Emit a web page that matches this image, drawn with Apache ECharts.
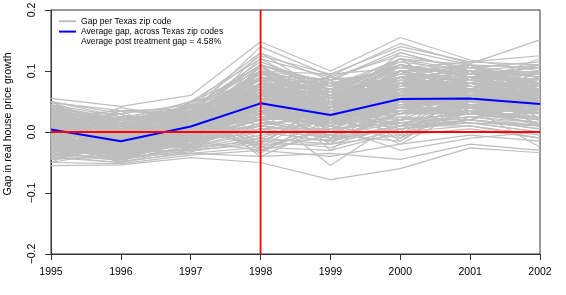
<!DOCTYPE html>
<html>
<head>
<meta charset="utf-8">
<script src="https://cdn.jsdelivr.net/npm/echarts@6/dist/echarts.min.js"></script>
<style>html,body{margin:0;padding:0;background:#fff}#c{width:566px;height:295px}</style>
</head>
<body>
<div id="c"></div>
<script>
const years = [1995, 1996, 1997, 1998, 1999, 2000, 2001, 2002];
const avgGap = [0.004, -0.015, 0.009, 0.047, 0.028, 0.054, 0.055, 0.046];
const treatmentYear = 1998;
const zipLabel = 'Gap per Texas zip code';
const avgLabel = 'Average gap, across Texas zip codes';
const noteLabel = 'Average post treatment gap = 4.58%';
const yTicks = [-0.2, -0.1, 0.0, 0.1, 0.2];
const zipGaps = [
[.030,.010,.035,.110,.070,.120,.100,.090],
[-.020,-.040,-.010,.020,.000,.030,.040,.020],
[.005,-.015,.010,.060,.040,.070,.065,.055],
[.040,.020,.030,.080,.050,.090,.095,.085],
[-.035,-.045,-.030,-.010,-.020,.010,.020,.005],
[.015,-.005,.025,.090,.060,.100,.080,.070],
[-.005,-.025,.000,.030,.010,.040,.050,.035],
[.050,.030,.045,.130,.085,.135,.110,.105],
[.000,-.020,.005,.045,.035,.055,.060,.050],
[-.015,-.030,-.005,.010,-.005,.020,.030,.015],
[.025,.000,.015,.070,.020,.080,.075,.060],
[-.040,-.050,-.025,.005,.015,.025,.015,.010],
[.010,-.010,.020,.100,.075,.110,.090,.095],
[.020,.005,.040,.055,.045,.060,.070,.065],
[-.025,-.035,-.015,.040,.025,.045,.055,.040],
[.035,.015,.050,.120,.090,.125,.105,.115],
[-.010,-.020,.010,.035,.005,.050,.045,.030],
[.008,-.012,-.005,.065,.055,.085,.080,.075],
[-.030,-.048,-.035,-.025,-.030,.000,.010,-.010],
[.045,.025,.020,.095,.065,.115,.100,.080],
[-.002,-.018,.015,.050,.030,.035,.040,.045],
[.012,-.008,.005,.075,.045,.075,.085,.070],
[-.045,-.040,-.020,.015,.020,.015,.025,.025],
[.028,.008,.030,.085,.080,.105,.095,.100],
[-.018,-.028,.000,.025,.040,.065,.050,.035],
[.003,-.022,-.010,.020,-.010,.030,.035,.020],
[.018,-.002,.035,.105,.055,.095,.085,.088],
[-.008,-.032,-.015,.000,-.015,.010,.025,.010],
[.038,.012,.025,.060,.035,.070,.075,.060],
[-.028,-.042,-.005,.045,.010,.055,.045,.050],
[.006,-.006,.018,.080,.070,.090,.075,.065],
[-.012,-.024,-.025,-.015,-.025,.005,.015,.000],
[.022,.002,.008,.040,.015,.050,.060,.055],
[-.050,-.052,-.038,-.030,-.040,-.020,-.005,-.015],
[.014,-.016,.022,.090,.050,.120,.110,.090],
[-.022,-.038,.002,.030,.020,.040,.035,.025],
[.032,.018,.042,.125,.095,.140,.115,.110],
[-.004,-.014,-.008,.055,.025,.060,.055,.045],
[.042,.022,.012,.050,.030,.065,.070,.050],
[-.038,-.046,-.022,.010,-.005,.020,.030,.015],
[.002,-.026,.012,.070,.060,.080,.065,.060],
[.026,.006,.028,.100,.060,.095,.090,.085],
[-.014,-.022,-.018,.015,.000,.025,.020,.005],
[.016,.004,.048,.085,.040,.100,.100,.080],
[-.032,-.036,-.028,-.005,.005,.015,.035,.020],
[.009,-.004,.014,.040,.050,.070,.060,.070],
[-.007,-.030,-.002,.035,.015,.045,.050,.040],
[.048,.035,.038,.115,.075,.110,.095,.095],
[-.024,-.044,-.012,.005,-.010,.010,.010,-.005],
[.020,-.008,.005,.060,.045,.085,.070,.065],
[-.001,-.012,.024,.075,.035,.055,.065,.060],
[.036,.014,.032,.095,.085,.130,.100,.098],
[-.016,-.034,-.030,-.020,-.020,-.005,.005,-.010],
[.011,-.014,.003,.055,.030,.065,.075,.055],
[-.042,-.050,-.032,-.015,-.012,.005,.020,.010],
[.024,.010,.018,.065,.065,.090,.085,.075],
[-.010,-.016,.006,.045,.020,.040,.040,.030],
[.004,-.024,-.006,.025,.010,.050,.055,.045],
[.030,.016,.040,.110,.080,.100,.105,.090],
[-.026,-.038,-.008,.020,.025,.035,.030,.030],
[.007,-.002,.016,.050,.040,.075,.080,.070],
[-.006,-.028,-.012,.010,-.005,.015,.025,.015],
[.018,-.006,.026,.070,.055,.080,.090,.080],
[-.034,-.044,-.026,.000,-.015,.010,.015,.000],
[.013,-.010,.008,.080,.045,.095,.085,.078],
[-.020,-.030,-.016,.005,.005,.020,.030,.020],
[.000,-.004,.020,.060,.050,.060,.060,.065],
[.034,.020,.028,.090,.070,.110,.095,.105],
[-.012,-.036,-.020,.025,.015,.030,.045,.035],
[.005,-.018,.002,.040,.035,.045,.050,.040],
[.055,.042,.060,.148,.100,.155,.118,.100],
[-.055,-.054,-.042,-.050,-.078,-.060,-.026,-.034],
[.012,-.020,.030,.140,.092,.145,.112,.151],
[.020,.002,.010,.035,-.055,.020,.030,.025],
[-.030,-.040,-.035,-.040,-.035,-.045,-.020,-.030],
[.008,-.010,.015,.130,.060,.075,.080,.120],
[-.020,-.035,-.010,.020,.040,.130,.100,.060],
[.025,.000,.020,.050,.010,-.030,-.010,.000],
[.040,.020,.050,.100,.095,.105,.115,.125],
[-.015,-.025,.000,.070,.030,.060,.040,-.025],
[.045,.010,-.010,.060,.080,.050,.090,.040],
[-.030,.000,.040,.020,.060,.090,.040,.080],
[.020,-.040,.030,-.020,.050,.030,.070,.010],
[-.010,.025,-.020,.110,.000,.080,.030,.090],
[.035,-.030,.045,.030,.070,.020,.100,.050],
[-.040,-.010,.010,.080,.040,.110,.060,.030],
[.015,.030,-.030,.050,-.020,.060,.080,.070],
[-.020,-.045,.025,.100,.085,.040,.050,.100],
[.050,.005,.000,.010,.030,.100,.070,.060],
[.000,-.035,.050,.070,.010,.050,.110,.020],
[-.045,-.020,.020,.120,.060,.070,.040,.080],
[.025,.015,-.015,-.030,.020,.000,.020,.050],
[-.015,-.050,.005,.090,.075,.120,.090,.110],
[.040,-.025,.035,.040,-.010,.010,.060,.030],
[.010,.020,-.025,.060,.090,.080,.100,.070],
[-.025,-.005,.040,.000,.050,.010,.030,.040],
[.030,-.040,.015,.110,.040,.100,.070,.060],
[-.005,.035,.025,.030,.000,.030,.050,.090],
[.045,-.015,-.005,.080,.065,.090,.110,.080],
[-.035,.005,.030,-.015,.030,-.020,.040,.010],
[.020,-.030,-.020,.100,.020,.070,.050,.100],
[-.050,-.030,.000,.050,.070,.110,.090,.050],
[.005,.040,.020,-.025,.040,.040,.080,.040],
[.030,-.020,.050,.070,-.030,.050,.020,.070],
[-.020,.010,-.030,.060,.050,.100,.100,.030],
[.015,-.045,.010,.090,.080,.060,.060,.080],
[-.010,.020,.040,-.040,.010,-.010,.070,.060],
[.050,-.010,.005,.090,.060,.120,.040,.020],
[-.030,-.025,.035,.030,.090,.070,.090,.100],
[.000,.030,-.010,.070,.000,.030,.030,.050],
[.040,-.035,.020,.050,.040,.080,.110,.060],
[-.040,.000,-.020,.100,.070,.050,.060,.090],
[.025,-.005,.045,-.030,-.005,-.015,.050,.030],
[-.005,-.040,.000,.080,.055,.110,.080,.070],
[.035,.020,.030,-.010,.025,.005,.020,.010],
[-.025,-.015,-.015,.110,.030,.090,.100,.110],
[.010,.005,.025,.040,.080,.060,.070,.040],
[.045,-.045,.010,.060,.010,.100,.040,.060],
[-.015,.025,-.025,.090,.050,.030,.080,.080],
[.020,-.020,.040,.010,.035,.070,.060,.020],
[-.035,-.030,.015,.070,.065,.040,.030,.070],
[.030,.010,-.005,.080,.020,.110,.090,.040],
[-.010,-.050,.035,.020,.060,.060,.050,.100],
[.015,.015,.005,.080,.000,.080,.100,.050],
[-.045,-.010,.020,.040,.085,-.010,.040,.030],
[.040,-.025,-.035,.060,.040,.090,.070,.090],
[.000,.035,.030,.100,.015,.050,.110,.060],
[-.020,-.040,.000,-.020,.050,.110,.060,.020],
[.025,.000,.045,.050,.070,.030,.030,.080],
[-.030,-.015,-.010,.090,-.010,.070,.080,.040],
[.050,.025,.025,-.035,.030,.010,.050,.070],
[-.005,-.035,-.020,.110,.075,.100,.070,.100],
[.015,.010,.040,.040,.005,.040,.090,.030],
[-.040,-.020,.010,.070,.045,.080,.040,.060],
[.035,-.045,-.015,.020,.060,.060,.100,.050],
[-.015,.015,.030,.100,.030,.120,.050,.080],
[.005,-.030,.005,.060,.080,-.005,.070,.010],
[.030,.030,-.025,.080,.015,.090,.060,.090],
[-.025,-.005,.045,-.020,.055,.050,.100,.070],
[.010,-.040,.015,.070,.040,.070,.030,.040],
[-.050,.000,-.005,.050,.070,.100,.080,.060],
[.045,-.020,.035,.090,.000,.040,.050,.100],
[-.010,.020,-.030,.030,.050,.080,.110,.050],
[.020,-.050,.020,.070,.090,.060,.040,.030],
[-.035,.010,.040,.110,.020,.110,.090,.080],
[.000,-.025,-.010,.040,.060,-.015,.060,.070],
[.040,.005,.010,.100,.035,.090,.070,.040],
[-.020,-.035,.030,-.030,.010,.060,.080,.110],
[.025,.035,-.020,.080,.075,.050,.050,.060],
[-.005,-.010,.050,.060,.040,.100,.100,.020],
[.015,-.040,-.005,.020,.030,.070,.040,.090],
[-.040,.000,.020,.090,.065,.040,.070,.050],
[.035,-.020,.000,.050,-.020,.080,.090,.070],
[-.025,.020,.035,.110,.080,.070,.060,.030],
[.005,-.045,-.025,.030,.050,.000,.100,.080],
[.045,-.005,.025,.070,.025,.090,.050,.060],
[-.015,-.030,.005,.100,.060,.060,.080,.100],
[.020,.025,.040,-.025,.005,.050,.030,.040],
[-.030,-.015,-.015,.060,.085,.100,.110,.070],
[.010,-.035,.015,.090,.030,.020,.060,.050],
[.010,-.020,.015,.060,.030,.065,.060,.050],
[-.005,-.010,.000,.040,.045,.050,.070,.060],
[.015,-.025,.020,.070,.020,.080,.055,.040],
[.000,-.015,-.005,.030,.035,.040,.050,.055],
[.020,-.005,.010,.080,.040,.070,.075,.065],
[-.010,-.030,.020,.050,.015,.060,.045,.035],
[.005,-.010,.005,.045,.050,.055,.065,.070],
[.025,-.020,.025,.065,.025,.075,.060,.045],
[-.015,-.025,-.010,.035,.030,.045,.055,.050],
[.010,.000,.015,.075,.045,.085,.070,.060],
[-.020,-.015,.000,.025,.020,.035,.040,.030],
[.015,-.030,.010,.055,.055,.065,.080,.055],
[.000,-.005,.030,.085,.035,.060,.050,.065],
[-.010,-.020,-.015,.040,.010,.050,.060,.040],
[.030,-.010,.020,.060,.045,.090,.065,.075],
[-.025,-.035,.005,.020,.025,.030,.045,.045],
[.010,-.015,.025,.070,.060,.070,.055,.035],
[.005,-.025,-.010,.045,.015,.055,.075,.060],
[-.005,.005,.010,.055,.040,.080,.060,.050],
[.020,-.020,.000,.035,.030,.045,.050,.070],
[-.015,-.010,.020,.065,.050,.065,.070,.045],
[.025,-.030,.015,.050,.020,.060,.040,.055],
[-.030,-.020,-.005,.030,.035,.040,.055,.040],
[.015,.000,.030,.080,.055,.075,.065,.065],
[.000,-.035,.005,.040,.025,.050,.060,.050],
[.010,-.015,-.010,.060,.040,.085,.075,.060],
[-.020,-.005,.015,.045,.010,.035,.045,.035],
[.035,-.010,.020,.075,.045,.070,.080,.070],
[-.010,-.025,.000,.025,.030,.055,.050,.045],
[.005,-.020,.025,.055,.055,.065,.060,.060],
[.020,-.005,.005,.065,.020,.050,.065,.050],
[-.005,-.030,.010,.035,.040,.060,.055,.040],
[.010,-.010,-.005,.050,.030,.075,.070,.075],
[-.025,-.020,.020,.070,.050,.045,.045,.055],
[.015,-.015,.010,.040,.015,.065,.060,.045],
[.000,-.025,.030,.060,.045,.055,.075,.065],
[.025,.000,.000,.045,.035,.080,.050,.040],
[-.010,-.035,.015,.055,.025,.040,.065,.060],
[.005,-.010,.005,.075,.060,.070,.055,.050],
[-.020,-.025,-.010,.030,.020,.050,.040,.035]
];

const FONT = '"Liberation Sans", Arial, Helvetica, sans-serif';
const chart = echarts.init(document.getElementById('c'), null, {renderer: 'canvas'});

const series = zipGaps.map(row => ({
  name: zipLabel,
  type: 'line',
  data: row.map((v, i) => [years[i], v]),
  symbol: 'none',
  silent: true,
  lineStyle: {color: '#bebebe', width: 1.2},
  itemStyle: {color: '#bebebe'},
  z: 2
}));
series.push({
  name: avgLabel,
  type: 'line',
  data: avgGap.map((v, i) => [years[i], v]),
  symbol: 'none',
  silent: true,
  lineStyle: {color: '#0000ff', width: 2},
  itemStyle: {color: '#0000ff'},
  z: 3
});
series.push({
  name: noteLabel,
  type: 'line',
  data: [],
  symbol: 'none',
  lineStyle: {color: '#ffffff', width: 0, opacity: 0},
  itemStyle: {color: '#ffffff', opacity: 0},
  z: 1
});
// treatment year vertical line and zero reference line
series.push({
  type: 'line',
  data: [[treatmentYear, yTicks[0]], [treatmentYear, yTicks[yTicks.length - 1]]],
  symbol: 'none',
  silent: true,
  lineStyle: {color: '#ff0000', width: 1.8},
  z: 5
});
series.push({
  type: 'line',
  data: [[years[0], 0], [years[years.length - 1], 0]],
  symbol: 'none',
  silent: true,
  lineStyle: {color: '#ff0000', width: 1.8},
  z: 5
});

chart.setOption({
  animation: false,
  backgroundColor: '#ffffff',
  textStyle: {fontFamily: FONT},
  grid: {left: 51, right: 26, top: 10, bottom: 41, show: true, borderColor: '#333', borderWidth: 1, containLabel: false, outerBoundsMode: 'none'},
  legend: {
    orient: 'vertical',
    left: 53,
    top: 11,
    itemWidth: 17,
    itemHeight: 4,
    itemGap: 0,
    selectedMode: false,
    itemStyle: {opacity: 0},
    textStyle: {fontSize: 8.6, color: '#000', fontFamily: FONT, lineHeight: 10.4},
    data: [
      {name: zipLabel},
      {name: avgLabel},
      {name: noteLabel}
    ]
  },
  xAxis: {
    type: 'value',
    min: years[0],
    max: years[years.length - 1],
    interval: 1,
    axisLine: {show: true, onZero: false, lineStyle: {color: '#333', width: 1}},
    axisTick: {show: true, inside: false, length: 6, lineStyle: {color: '#333'}},
    splitLine: {show: false},
    axisLabel: {fontSize: 10.5, color: '#000', margin: 13, fontFamily: FONT, formatter: v => String(Math.round(v))}
  },
  yAxis: {
    type: 'value',
    min: yTicks[0],
    max: yTicks[yTicks.length - 1],
    interval: 0.1,
    name: 'Gap in real house price growth',
    nameLocation: 'middle',
    nameGap: 37,
    nameTextStyle: {fontSize: 10.5, color: '#000', fontFamily: FONT, padding: [0, 0, 0, 16]},
    axisLine: {show: true, onZero: false, lineStyle: {color: '#333', width: 1}},
    axisTick: {show: true, inside: false, length: 6, lineStyle: {color: '#333'}},
    splitLine: {show: false},
    axisLabel: {
      fontSize: 10.5, color: '#000', margin: 13, rotate: 90, fontFamily: FONT,
      formatter: v => (v < -1e-9 ? '\u2212' : '') + Math.abs(v).toFixed(1)
    }
  },
  series: series
});
</script>
</body>
</html>
